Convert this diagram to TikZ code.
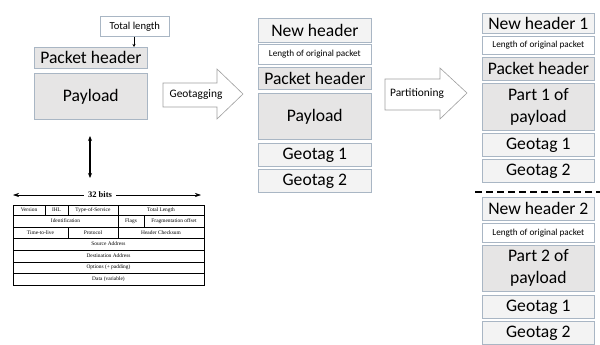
\documentclass[tikz,border=0pt]{standalone}
\usepackage{fontspec}
\setmainfont{Carlito}
\newfontfamily\tabfont{Liberation Serif}
\usetikzlibrary{arrows.meta}
\definecolor{edge}{HTML}{A9B6C4}
\definecolor{graybox}{HTML}{E6E5E5}
\definecolor{lightbox}{HTML}{F3F3F3}
\tikzset{
  blk/.style={draw=edge, line width=0.7pt, inner sep=0pt, anchor=north west},
  hdr/.style={blk, fill=graybox},
  tag/.style={blk, fill=lightbox},
  plain/.style={blk, fill=white},
  bigtxt/.style={font=\fontsize{17.6}{22}\selectfont},
  smalltxt/.style={font=\fontsize{9.2}{11}\selectfont},
  flowarrow/.style={draw=gray!75, line width=0.6pt, fill=white},
  cell/.style={draw=black, line width=0.4pt},
  celltxt/.style={font=\tabfont\fontsize{5.4}{6}\selectfont, inner sep=0pt}
}
% box helper: name, x, y (top-left), width, height, style, text
\newcommand{\pbox}[7]{\node[#6, minimum width=#4pt, minimum height=#5pt, align=center] (#1) at (#2,#3) {#7};}
\begin{document}
\begin{tikzpicture}[x=1pt, y=-1pt]
\useasboundingbox (0,0) rectangle (600,345);

% original packet
\pbox{total}{100}{16}{69}{20}{plain, font=\fontsize{10.6}{12}\selectfont}{Total length}
\pbox{ph}{34}{47}{113}{21}{hdr, bigtxt}{Packet header}
\pbox{pl}{34}{73}{113}{46}{hdr, bigtxt}{Payload}
\draw[-{Stealth[length=3pt,width=3pt]}, line width=0.5pt] (total.south -| 134,0) -- (ph.north -| 134,0);

% link to the IP header layout
\coordinate (dtop) at (90,136);
\coordinate (dbot) at (90,178);
\draw[{Stealth[length=5pt,width=4pt]}-{Stealth[length=5pt,width=4pt]}, line width=1.4pt] (dtop) -- (dbot);

% IP header layout
\coordinate (bl) at (13,195);
\coordinate (br) at (201,195);
\draw[{Stealth[length=6pt,width=4pt]}-{Stealth[length=6pt,width=4pt]}, line width=0.6pt] (bl) -- (br);
\node[fill=white, inner xsep=4pt, inner ysep=0pt, font=\tabfont\bfseries\fontsize{8.5}{9}\selectfont] (bits) at (100,195) {32 bits};

\draw[cell] (13,205) rectangle (204,285);
\foreach \y in {215,227,238,250,262,273} \draw[cell] (13,\y) -- (204,\y);
\draw[cell] (45,205) -- (45,215);
\draw[cell] (68,205) -- (68,215);
\draw[cell] (118,205) -- (118,238);
\draw[cell] (144,215) -- (144,227);
\draw[cell] (68,227) -- (68,238);

\node[celltxt] (c1) at (29,210) {Version};
\node[celltxt] (c2) at (56.5,210) {IHL};
\node[celltxt] (c3) at (93,210) {Type-of-Service};
\node[celltxt] (c4) at (161,210) {Total Length};
\node[celltxt] (c5) at (65.5,221) {Identification};
\node[celltxt] (c6) at (131,221) {Flags};
\node[celltxt] (c7) at (174,221) {Fragmentation offset};
\node[celltxt] (c8) at (40.5,232.5) {Time-to-live};
\node[celltxt] (c9) at (93,232.5) {Protocol};
\node[celltxt] (c10) at (161,232.5) {Header Checksum};
\node[celltxt] (c11) at (108.5,244) {Source Address};
\node[celltxt] (c12) at (108.5,256) {Destination Address};
\node[celltxt] (c13) at (108.5,267.5) {Options (+ padding)};
\node[celltxt] (c14) at (108.5,279) {Data (variable)};

% geotagging step
\draw[flowarrow] (163,83) -- (217,83) -- (217,69) -- (243,94) -- (217,119) -- (217,107) -- (163,107) -- cycle;
\node[font=\fontsize{11.4}{13}\selectfont] (geo) at (196,95) {Geotagging};

% geotagged packet
\pbox{nh}{258}{18}{113}{24}{tag, bigtxt}{New header}
\pbox{len}{258}{44}{113}{20}{plain, smalltxt}{Length of original packet}
\pbox{ph2}{258}{67}{113}{22}{hdr, bigtxt}{Packet header}
\pbox{pl2}{258}{93}{113}{46}{hdr, bigtxt}{Payload}
\pbox{g1}{258}{143}{113}{23}{tag, bigtxt}{Geotag 1}
\pbox{g2}{258}{169}{113}{23}{tag, bigtxt}{Geotag 2}

% partitioning step
\draw[flowarrow] (385,79) -- (440,79) -- (440,68) -- (467,93) -- (440,119) -- (440,110) -- (385,110) -- cycle;
\node[font=\fontsize{11.4}{13}\selectfont] (part) at (417,94) {Partitioning};

% first fragment
\pbox{a1}{482}{13}{112}{20}{tag, bigtxt}{New header 1}
\pbox{a2}{482}{36}{112}{18}{plain, smalltxt}{Length of original packet}
\pbox{a3}{482}{57}{112}{23}{hdr, bigtxt}{Packet header}
\pbox{a4}{482}{83}{112}{47}{hdr, bigtxt}{Part 1 of\\payload}
\pbox{a5}{482}{133}{112}{23}{tag, bigtxt}{Geotag 1}
\pbox{a6}{482}{159}{112}{23}{tag, bigtxt}{Geotag 2}

\coordinate (cutl) at (475,192);
\coordinate (cutr) at (600,192);
\draw[dashed, dash pattern=on 7pt off 4pt, line width=1.6pt] (cutl) -- (cutr);

% second fragment
\pbox{b1}{482}{197}{112}{23}{tag, bigtxt}{New header 2}
\pbox{b2}{482}{223}{112}{19}{plain, smalltxt}{Length of original packet}
\pbox{b3}{482}{245}{112}{46}{hdr, bigtxt}{Part 2 of\\payload}
\pbox{b4}{482}{295}{112}{23}{tag, bigtxt}{Geotag 1}
\pbox{b5}{482}{321}{112}{23}{tag, bigtxt}{Geotag 2}
\end{tikzpicture}
\end{document}
